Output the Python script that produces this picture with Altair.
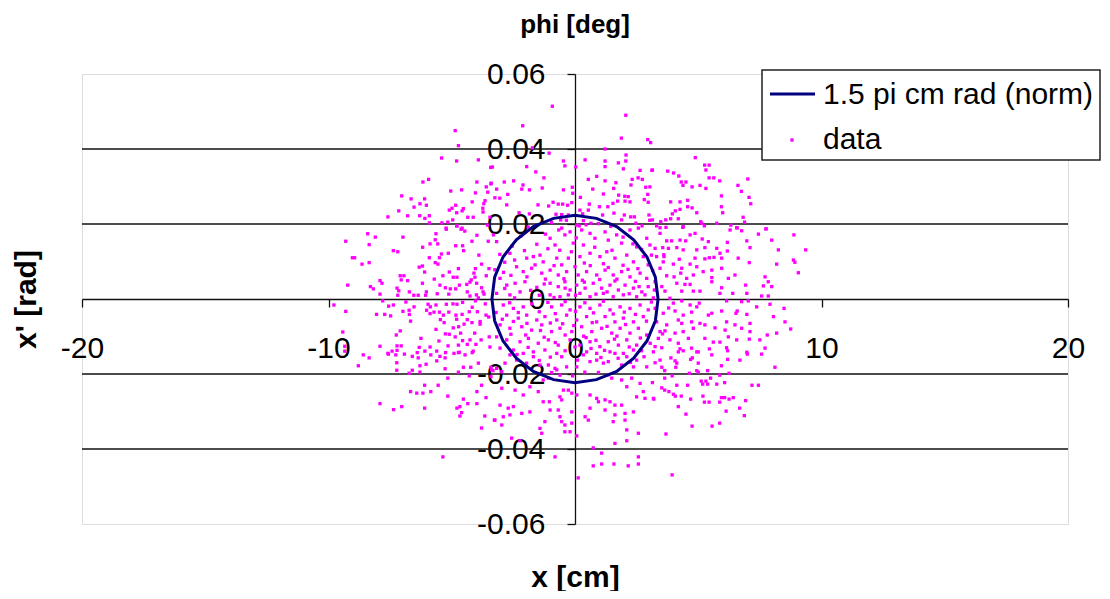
import altair as alt
import pandas as pd

# ---- series values: x [cm], x' [mrad] ----
data_points = [
    # upper-left
    (-4.86, 44.9), (-4.73, 40.9), (-5.41, 37.6), (-4.80, 36.8), (-3.92, 37.1), (-3.35, 35.2),
    (-5.94, 31.9), (-6.17, 31.2), (-3.98, 31.2), (-3.41, 30.7), (-3.60, 29.9), (-5.04, 28.8),
    (-4.60, 29.1), (-4.04, 28.3), (-3.54, 28.5), (-7.03, 27.5), (-6.65, 26.7), (-6.10, 26.7),
    (-6.29, 25.4), (-6.03, 25.0), (-6.53, 24.5), (-4.17, 25.9), (-3.65, 26.2), (-3.70, 25.4),
    (-4.84, 25.0), (-4.53, 24.1), (-4.99, 24.2), (-5.10, 23.7), (-4.80, 23.0), (-4.58, 23.5),
    (-3.74, 24.2), (-3.73, 23.2), (-7.15, 23.5), (-6.79, 22.2), (-7.59, 21.9), (-6.30, 22.2),
    (-6.09, 21.5), (-5.91, 22.2), (-5.91, 20.3), (-5.40, 20.3), (-5.16, 20.5), (-4.96, 21.1),
    (-4.35, 21.8), (-4.13, 21.8), (-3.45, 21.8), (-5.23, 18.9), (-4.79, 19.5), (-4.58, 18.9),
    # upper-centre
    (-0.92, 51.4), (2.06, 49.0), (-2.12, 46.2), (1.88, 42.9), (2.95, 42.5), (-1.73, 40.3),
    (1.22, 40.0), (-1.05, 38.9), (2.07, 38.4), (0.41, 37.1), (-0.47, 36.8), (1.22, 36.8),
    (1.76, 36.3), (2.06, 36.8), (-3.42, 35.1), (-0.41, 35.5), (0.03, 35.2), (1.22, 35.3),
    (1.96, 34.7), (3.12, 34.3), (-1.96, 35.3), (-1.59, 33.9), (2.64, 34.3), (-1.26, 32.3),
    (0.88, 32.7), (0.54, 31.9), (-2.49, 31.5), (-2.87, 31.2), (-2.11, 30.4), (-3.40, 30.9),
    (-1.85, 29.1), (-2.16, 29.3), (-3.18, 29.3), (-1.33, 29.6), (-0.47, 29.1), (-0.11, 29.8),
    (1.22, 31.5), (1.66, 31.0), (1.57, 29.5), (2.32, 31.9), (2.56, 32.3), (2.73, 31.9),
    (2.27, 30.4), (2.87, 29.8), (0.72, 29.3), (-0.09, 28.2), (-2.73, 27.9), (-3.25, 27.0),
    (0.22, 27.1), (1.15, 28.0), (1.77, 27.7), (2.02, 27.4), (2.16, 27.3), (2.95, 27.9),
    (-1.50, 25.1), (-1.07, 24.8), (-0.89, 25.8), (-0.68, 25.3), (-0.50, 25.3), (-0.30, 25.0),
    (-0.13, 25.7), (0.20, 23.7), (0.54, 23.7), (0.58, 25.3), (0.99, 24.6), (1.33, 24.6),
    (1.54, 25.5), (1.73, 26.1), (2.03, 26.1), (2.23, 25.9), (2.81, 26.5), (2.97, 25.8),
    (-2.77, 25.1), (-3.05, 26.9), (-2.27, 23.0), (-1.85, 22.7), (-0.77, 22.6), (-0.54, 22.5),
    (-0.27, 22.4), (0.31, 22.7), (1.12, 22.4), (1.58, 22.9), (2.00, 22.4), (1.89, 21.1),
    (2.26, 21.9), (2.41, 21.9), (3.00, 22.4), (3.03, 21.0), (-0.58, 21.1), (0.34, 20.9),
    (0.65, 20.2), (0.07, 19.7), (0.17, 19.5), (2.47, 20.2), (2.72, 19.5),
    # upper-right
    (3.07, 41.7), (4.88, 37.7), (5.26, 35.7), (5.44, 35.7), (5.31, 34.4), (3.14, 34.4),
    (3.76, 34.1), (4.00, 33.6), (4.21, 32.8), (4.31, 31.2), (4.50, 31.2), (4.38, 30.3),
    (5.44, 32.3), (5.63, 32.3), (5.87, 31.5), (4.75, 29.9), (5.07, 30.3), (5.31, 29.5),
    (3.04, 29.9), (7.01, 32.0), (6.61, 30.3), (6.75, 28.7), (7.06, 27.1), (7.13, 25.4),
    (5.94, 27.5), (5.94, 24.6), (5.99, 23.0), (3.88, 25.9), (4.26, 25.9), (4.57, 26.3),
    (4.07, 23.5), (4.26, 23.9), (4.57, 24.6), (4.75, 24.3), (3.95, 22.7), (4.94, 23.0),
    (3.88, 21.4), (4.19, 21.4), (3.68, 21.1), (3.14, 21.1), (3.48, 20.6), (5.10, 20.6),
    (5.14, 20.2), (5.75, 20.2), (6.82, 21.8), (6.88, 20.5), (3.31, 19.5), (3.69, 19.1),
    (4.37, 19.1), (5.25, 19.5), (6.32, 19.7), (6.56, 19.0), (7.75, 18.7),
    # middle-left
    (-8.41, 17.4), (-8.10, 16.5), (-9.30, 15.4), (-6.98, 16.5), (-8.35, 14.5), (-5.22, 18.6),
    (-5.64, 17.4), (-4.80, 19.5), (-4.62, 18.6), (-4.47, 18.1), (-3.98, 17.0), (-4.18, 15.4),
    (-5.67, 15.8), (-5.57, 14.7), (-5.88, 14.7), (-6.18, 13.8), (-4.84, 14.2), (-4.56, 14.2),
    (-4.52, 12.9), (-3.52, 15.4), (-7.37, 12.9), (-7.19, 12.6), (-5.14, 12.2), (-5.42, 12.0),
    (-9.03, 11.0), (-8.94, 11.0), (-5.91, 11.0), (-5.50, 11.0), (-8.64, 9.3), (-8.35, 9.7),
    (-5.67, 9.7), (-5.56, 9.3), (-3.79, 9.3), (-6.32, 8.5), (-6.19, 8.8), (-4.73, 8.1),
    (-4.04, 8.1), (-3.49, 8.1), (-6.10, 7.2), (-5.10, 7.2), (-5.36, 6.2), (-4.94, 5.8),
    (-4.79, 5.8), (-4.10, 6.9), (-4.06, 5.8), (-7.09, 6.2), (-6.94, 6.2), (-6.79, 4.9),
    (-7.91, 4.9), (-7.83, 4.2), (-7.05, 5.1), (-6.19, 4.2), (-5.71, 5.3), (-5.48, 3.7),
    (-5.26, 3.0), (-5.06, 2.7), (-4.84, 2.7), (-4.69, 3.7), (-4.39, 3.9), (-4.26, 4.5),
    (-4.21, 5.1), (-3.99, 4.2), (-3.79, 3.0), (-9.22, 3.7), (-8.30, 3.3), (-8.18, 2.7),
    (-7.22, 2.9), (-7.15, 2.2), (-6.72, 1.9), (-6.36, 1.0), (-6.54, 1.0), (-6.03, 1.9),
    (-6.06, 1.0), (-7.91, 1.3), (-7.19, 1.0), (-5.59, 1.4), (-5.12, 1.3), (-4.26, 0.8),
    (-4.00, 1.1), (-3.92, 0.3), (-3.69, 1.3), (-3.73, 1.9), (-4.37, 1.9), (-9.78, -1.6),
    (-7.80, -0.5), (-6.86, -0.8), (-7.56, -1.9), (-7.37, -1.6), (-6.53, -2.1), (-5.96, -1.4),
    (-5.87, -2.1), (-5.64, -1.6), (-5.22, -1.4), (-4.95, -1.3), (-4.79, -1.4), (-4.56, -0.9),
    (-4.04, -0.5), (-3.64, -1.3), (-9.30, -3.3), (-8.05, -4.1), (-7.72, -4.1), (-7.48, -4.5),
    (-6.98, -3.3), (-6.73, -3.0), (-6.72, -4.1), (-6.02, -3.0), (-5.88, -3.9), (-5.72, -3.5),
    (-5.50, -3.5), (-5.34, -4.3), (-5.12, -3.5), (-4.83, -4.3), (-4.58, -4.1), (-4.29, -3.4),
    (-4.17, -2.2), (-3.96, -3.4), (-3.61, -4.3), (-6.67, -5.9), (-5.46, -5.5), (-5.31, -6.3),
    (-4.80, -5.4), (-4.72, -7.4), (-4.50, -6.7), (-4.37, -5.5), (-4.18, -6.3), (-3.85, -6.7),
    (-3.50, -4.8), (-4.94, -7.7), (-5.64, -8.1), (-9.42, -8.8), (-7.09, -8.5), (-7.25, -9.6),
    (-5.26, -9.3), (-5.10, -9.4), (-4.64, -9.1), (-4.07, -9.1), (-4.86, -10.1), (-4.26, -10.9),
    (-4.56, -11.1), (-3.81, -10.9), (-3.48, -10.1), (-6.25, -10.5), (-5.52, -11.2), (-7.91, -12.6),
    (-7.22, -12.5), (-7.05, -12.5), (-6.32, -12.9), (-5.88, -12.8), (-5.61, -13.9), (-5.15, -12.5),
    (-4.73, -12.3), (-4.37, -12.1), (-4.02, -12.1), (-7.42, -13.9), (-7.22, -13.7), (-7.59, -14.5),
    (-6.40, -14.3), (-4.69, -14.2), (-4.13, -13.9), (-9.34, -12.6), (-9.34, -13.9),
    # centre
    (-0.66, 18.4), (-0.54, 18.9), (-0.41, 17.1), (-0.20, 17.9), (0.27, 18.4), (0.61, 17.5),
    (0.81, 16.2), (1.22, 17.9), (1.35, 15.7), (1.69, 17.1), (1.89, 14.9), (-1.01, 16.2),
    (-0.81, 14.4), (-0.07, 14.9), (0.34, 14.4), (2.23, 18.4), (2.57, 18.9), (2.91, 16.2),
    (3.04, 14.4), (2.50, 13.9), (-3.18, 15.3), (-3.31, 17.1), (-2.64, 12.2), (-1.96, 10.9),
    (-1.69, 11.3), (-1.42, 11.7), (-1.29, 9.9), (-0.74, 10.9), (-0.54, 9.1), (-0.27, 10.9),
    (0.20, 11.3), (0.61, 12.2), (1.01, 11.3), (1.29, 12.6), (1.62, 10.9), (2.10, 11.7),
    (2.37, 9.9), (2.77, 11.3), (2.97, 9.1), (-2.37, 8.6), (-2.10, 7.3), (-1.76, 8.2),
    (-1.35, 6.9), (-1.01, 7.7), (-0.68, 6.4), (-0.34, 7.3), (0.13, 6.4), (0.47, 7.3),
    (0.88, 6.4), (1.22, 7.7), (1.55, 6.4), (1.89, 7.3), (2.23, 5.9), (2.64, 6.9),
    (2.91, 5.5), (-3.04, 5.5), (-2.77, 3.7), (-2.43, 4.2), (-2.03, 4.6), (-1.01, 4.2),
    (-0.68, 3.3), (-0.41, 4.6), (-0.20, 2.4), (0.07, 3.7), (0.41, 2.9), (0.74, 4.2),
    (1.08, 2.9), (1.42, 3.7), (1.76, 2.4), (2.03, 3.7), (2.37, 2.9), (2.71, 1.9),
    (2.97, 3.3), (-3.18, 1.5), (-2.64, 1.1), (-2.23, 1.9), (-1.01, 1.1), (-0.61, 0.6),
    (-0.27, 1.1), (0.20, 1.5), (0.61, 0.6), (1.15, 1.5), (1.55, 0.6), (1.96, 1.1),
    (2.50, 0.6), (2.84, 1.1), (-2.91, -1.6), (-2.50, -2.5), (-2.10, -2.1), (-0.95, -2.1),
    (-0.54, -1.6), (-0.20, -2.9), (0.20, -2.1), (0.61, -2.5), (1.01, -1.6), (1.42, -2.9),
    (1.83, -2.1), (2.23, -2.5), (2.64, -1.6), (2.97, -2.9), (-2.77, -4.3), (-2.30, -5.1),
    (-1.96, -4.3), (-1.55, -5.6), (-1.22, -4.7), (-0.74, -5.6), (-0.34, -4.3), (0.07, -5.6),
    (0.47, -4.7), (0.88, -6.1), (1.22, -4.7), (1.62, -6.1), (1.96, -5.1), (2.37, -6.1),
    (2.77, -4.7), (-3.04, -6.9), (-2.64, -7.8), (-2.16, -7.4), (-1.76, -8.3), (-1.35, -6.9),
    (-0.95, -8.7), (-0.61, -7.8), (-0.13, -8.7), (0.27, -7.4), (0.68, -8.7), (1.08, -7.8),
    (1.49, -9.1), (1.83, -7.8), (2.23, -9.1), (2.57, -7.8), (2.91, -9.6), (-3.18, -10.1),
    (-2.77, -10.9), (-2.23, -11.4), (-1.89, -10.5), (-1.49, -11.8), (-1.08, -10.9), (-0.68, -12.3),
    (-0.20, -10.9), (0.20, -12.3), (0.61, -11.4), (1.01, -12.7), (1.35, -11.4), (1.76, -12.3),
    (2.10, -10.9), (2.50, -12.3), (-3.04, -13.1), (-2.50, -13.6), (-1.69, -14.1), (-1.22, -13.6),
    (-0.74, -14.5), (0.47, -14.1), (0.88, -14.5), (1.42, -14.1), (1.96, -14.5), (2.37, -13.6),
    # centre, second pass (dense core)
    (-2.85, 9.8), (-2.55, 14.1), (-2.20, 16.8), (-1.90, 19.2), (-1.55, 14.6), (-1.20, 17.3),
    (-0.95, 20.4), (-0.35, 21.0), (0.05, 16.3), (0.45, 19.8), (0.95, 20.1), (1.45, 19.4),
    (1.95, 16.5), (2.35, 14.7), (2.70, 13.2), (3.10, 11.7), (-3.05, 11.9), (-2.45, 10.4),
    (-2.05, 12.9), (-1.62, 9.1), (-1.10, 13.4), (-0.62, 13.0), (-0.15, 12.6), (0.38, 9.6),
    (0.80, 13.8), (1.15, 9.4), (1.50, 13.0), (1.95, 9.0), (2.55, 8.1), (3.15, 7.6),
    (-3.25, 7.8), (-2.90, 7.1), (-2.60, 6.3), (-1.95, 5.9), (-1.55, 3.1), (-1.20, 5.3),
    (-0.85, 8.9), (-0.45, 5.4), (0.00, 8.6), (0.30, 5.0), (0.62, 8.9), (1.00, 5.2),
    (1.35, 8.4), (1.70, 5.3), (2.15, 7.9), (2.45, 4.7), (3.22, 2.4), (-2.85, 2.8),
    (-2.45, 0.3), (-1.80, 2.3), (-1.45, 1.0), (-1.25, 4.0), (-0.85, 0.4), (-0.40, 2.9),
    (0.02, 1.0), (0.38, 4.5), (0.85, 1.3), (1.30, 1.9), (1.62, 4.8), (2.20, 1.4),
    (2.60, 3.3), (3.10, -0.8), (-3.20, -3.6), (-2.65, -1.0), (-2.30, -3.6), (-1.75, -1.3),
    (-1.45, -3.4), (-1.10, -0.9), (-0.80, -3.9), (-0.40, -0.7), (0.02, -3.3), (0.40, -1.0),
    (0.75, -3.7), (1.15, -0.6), (1.55, -4.0), (2.00, -3.5), (2.45, -4.1), (2.90, -5.9),
    (-2.95, -5.4), (-2.50, -6.0), (-1.95, -6.5), (-1.40, -8.4), (-1.00, -6.4), (-0.50, -6.6),
    (-0.05, -7.1), (0.35, -9.9), (0.70, -6.3), (1.30, -7.3), (1.70, -9.9), (2.05, -6.8),
    (2.65, -10.4), (3.05, -11.8), (-2.60, -9.4), (-2.00, -9.6), (-1.25, -10.2), (-0.80, -11.6),
    (-0.40, -9.6), (0.00, -12.8), (0.45, -10.3), (0.85, -11.0), (1.20, -13.7), (1.60, -10.7),
    (2.20, -12.8), (2.70, -13.8), (-2.35, -14.8), (-1.90, -12.9), (-1.45, -16.4), (-1.00, -15.5),
    (-0.40, -13.8), (0.10, -16.3), (0.65, -13.2), (1.05, -15.6), (1.75, -15.8), (2.25, -16.9),
    (2.80, -15.4), (-0.10, -20.5), (0.40, -19.5), (0.95, -19.6), (-0.95, -19.6), (1.35, -20.2),
    (-3.90, 11.7), (-3.60, 6.2), (-3.85, -6.0), (-3.45, -12.8), (3.60, 11.8), (3.80, -2.4),
    (3.55, -9.3), (-3.55, 19.7), (3.45, 19.0),
    # middle-right
    (4.39, 19.3), (6.29, 18.4), (6.58, 19.0), (6.76, 18.2), (7.44, 17.3), (7.75, 18.7),
    (8.88, 17.1), (3.45, 17.5), (3.72, 15.5), (3.92, 15.5), (4.26, 15.7), (4.49, 15.5),
    (4.67, 17.1), (4.87, 17.5), (5.16, 16.0), (5.41, 15.3), (6.18, 15.1), (6.97, 15.5),
    (7.98, 15.7), (3.25, 13.5), (3.56, 13.7), (3.79, 13.5), (4.13, 13.7), (4.39, 13.1),
    (4.94, 13.1), (5.27, 13.7), (5.75, 13.5), (6.18, 12.8), (7.10, 13.7), (8.25, 13.1),
    (9.36, 13.1), (3.31, 11.3), (3.61, 11.3), (4.23, 10.6), (4.87, 10.9), (5.27, 10.7),
    (5.45, 11.0), (5.64, 11.1), (5.88, 12.2), (5.95, 10.9), (6.62, 10.9), (7.07, 9.7),
    (8.18, 9.3), (8.86, 10.4), (8.92, 9.8), (9.06, 7.0), (3.45, 8.2), (3.58, 9.9),
    (3.99, 9.3), (4.33, 8.2), (4.67, 9.3), (4.94, 8.6), (5.20, 7.3), (5.55, 7.7),
    (5.95, 8.2), (6.49, 6.4), (3.72, 6.2), (4.02, 5.9), (4.29, 6.9), (4.53, 5.5),
    (4.80, 6.4), (5.55, 5.7), (6.22, 5.5), (7.71, 5.9), (7.84, 4.6), (3.25, 4.6),
    (3.52, 3.3), (4.13, 4.2), (4.46, 3.9), (4.67, 3.9), (5.55, 4.6), (5.95, 3.0),
    (6.92, 3.7), (7.64, 3.5), (7.98, 3.3), (3.65, 2.1), (4.33, 2.1), (4.80, 2.1),
    (5.07, 2.1), (5.88, 1.5), (6.40, 1.5), (6.97, 1.5), (7.57, 0.8), (7.84, 0.8),
    (3.18, 0.3), (3.85, 0.2), (3.99, -1.1), (4.33, -0.5), (4.67, -1.6), (4.94, -2.1),
    (5.04, -1.1), (6.15, -0.5), (6.76, -0.7), (7.03, -0.5), (7.37, -2.1), (7.91, -1.4),
    (8.48, -2.5), (3.25, -2.5), (3.58, -3.8), (4.06, -3.2), (4.39, -4.3), (4.73, -3.5),
    (5.55, -3.8), (5.95, -3.2), (6.53, -3.8), (6.58, -3.2), (6.97, -4.1), (8.05, -4.7),
    (3.31, -6.1), (3.72, -6.9), (4.19, -5.6), (4.33, -6.5), (4.73, -6.1), (5.07, -6.5),
    (5.41, -4.3), (5.27, -6.9), (6.15, -6.1), (6.49, -6.9), (7.10, -6.5), (8.52, -6.1),
    (3.45, -8.7), (3.65, -8.5), (4.06, -9.1), (4.39, -8.7), (4.80, -7.8), (5.68, -7.7),
    (6.09, -8.3), (6.76, -7.8), (7.10, -8.7), (7.80, -9.6), (8.18, -9.1), (8.75, -8.0),
    (3.38, -10.5), (3.85, -10.9), (4.19, -11.8), (4.60, -10.5), (5.27, -10.5), (5.61, -11.5),
    (5.88, -11.5), (6.22, -10.1), (6.56, -10.9), (7.07, -10.7), (7.50, -10.9), (3.25, -12.7),
    (3.52, -13.0), (4.26, -13.3), (4.73, -13.1), (5.00, -14.1), (5.45, -13.3), (6.15, -13.0),
    (6.97, -14.2), (7.71, -13.1),
    # lower-left
    (-8.59, -14.9), (-8.35, -15.7), (-8.79, -17.8), (-7.57, -14.7), (-7.27, -14.9), (-6.92, -14.7),
    (-6.60, -15.3), (-6.36, -15.7), (-6.09, -13.9), (-5.85, -14.9), (-5.61, -16.5), (-5.48, -15.3),
    (-5.27, -15.7), (-5.25, -14.3), (-4.91, -14.5), (-4.73, -14.3), (-4.46, -14.9), (-4.17, -14.3),
    (-3.92, -17.1), (-7.23, -17.0), (-6.29, -17.8), (-6.04, -17.4), (-7.23, -19.0), (-6.60, -19.0),
    (-6.73, -19.8), (-6.29, -19.5), (-5.27, -18.6), (-4.73, -19.5), (-4.53, -18.2), (-4.23, -18.2),
    (-4.29, -20.5), (-5.16, -21.1), (-3.41, -18.2), (-3.33, -19.1), (-3.41, -20.7), (-3.79, -23.0),
    (-6.10, -23.0), (-5.55, -23.0), (-6.67, -24.7), (-6.42, -25.1), (-6.17, -25.1), (-5.85, -24.7),
    (-3.98, -24.7), (-5.16, -25.9), (-3.61, -26.3), (-4.53, -26.7), (-7.91, -27.9), (-4.35, -27.9),
    (-3.98, -27.9), (-7.36, -29.5), (-7.03, -28.7), (-6.10, -29.1), (-4.79, -29.1), (-4.67, -28.7),
    (-4.60, -30.3), (-4.67, -31.2), (-3.66, -31.2), (-3.27, -32.3), (-3.79, -34.4), (-5.36, -42.1),
    # lower-centre
    (-3.38, -18.9), (-3.18, -18.5), (-2.97, -19.4), (-2.84, -17.1), (-2.64, -14.9), (-2.37, -16.3),
    (-2.10, -14.5), (-1.96, -17.1), (-1.69, -15.4), (-1.42, -17.6), (-1.08, -17.6), (-0.81, -18.5),
    (-0.54, -15.4), (-0.34, -18.1), (-0.61, -20.3), (-1.08, -21.1), (-1.29, -21.6), (-0.74, -18.9),
    (0.07, -18.1), (0.34, -14.9), (0.61, -16.7), (0.88, -16.3), (1.15, -17.1), (1.35, -16.7),
    (1.62, -14.5), (1.89, -17.6), (2.10, -15.4), (2.37, -18.1), (2.50, -16.3), (2.91, -18.1),
    (1.49, -21.1), (1.89, -21.6), (2.30, -21.1), (2.64, -22.5), (2.10, -23.4), (-2.97, -23.8),
    (-2.43, -24.3), (-2.10, -25.6), (-1.83, -23.4), (-1.49, -24.7), (-0.47, -24.3), (-0.27, -24.3),
    (-0.13, -25.1), (0.07, -25.6), (-0.61, -26.1), (-0.54, -26.9), (-1.29, -27.4), (-1.04, -27.4),
    (0.61, -25.6), (0.88, -26.5), (0.95, -27.4), (1.22, -26.9), (1.42, -27.4), (1.62, -28.3),
    (1.89, -28.3), (2.50, -26.1), (2.84, -26.5), (3.18, -26.5), (2.77, -24.7), (-3.04, -28.3),
    (-2.71, -29.1), (-2.50, -28.7), (-1.83, -30.1), (-1.01, -29.6), (-0.68, -29.6), (-0.13, -30.1),
    (0.61, -29.1), (1.22, -29.6), (1.62, -30.9), (2.03, -30.5), (2.37, -30.1), (-3.25, -32.3),
    (-2.91, -31.4), (-2.64, -30.9), (-2.16, -30.5), (-1.22, -32.7), (-0.61, -31.4), (-0.54, -32.7),
    (-0.41, -33.6), (-0.13, -33.1), (0.41, -31.4), (0.54, -32.3), (1.55, -32.7), (2.03, -32.3),
    (-2.97, -33.6), (-1.42, -34.5), (-1.35, -35.8), (-0.41, -35.4), (-0.20, -35.4), (0.07, -36.5),
    (2.10, -34.9), (2.57, -35.8), (-2.57, -37.1), (-2.23, -37.8), (1.62, -38.5), (2.10, -37.8),
    (0.74, -39.7), (1.08, -41.1), (-0.81, -42.1), (2.57, -42.1), (0.74, -44.5), (1.08, -44.0),
    (1.58, -44.0), (2.16, -44.5), (2.57, -44.0), (0.13, -47.7),
    # lower-right
    (3.18, -14.1), (4.19, -14.1), (4.39, -13.8), (4.94, -14.1), (6.19, -13.8), (5.55, -14.9),
    (6.99, -14.7), (7.57, -14.7), (3.45, -16.3), (3.25, -17.0), (3.89, -15.7), (4.06, -16.5),
    (4.13, -17.1), (4.69, -16.1), (4.76, -15.7), (5.00, -17.1), (6.19, -16.1), (6.69, -16.3),
    (5.94, -17.8), (3.52, -18.2), (3.64, -19.1), (4.09, -18.2), (4.94, -19.1), (5.00, -19.5),
    (5.38, -19.1), (4.64, -19.8), (5.87, -20.3), (6.25, -19.8), (8.11, -18.2), (3.94, -20.5),
    (3.64, -21.1), (5.50, -21.1), (3.14, -22.3), (4.13, -23.0), (4.57, -23.0), (5.12, -21.9),
    (5.31, -21.9), (5.18, -22.7), (5.38, -22.7), (5.75, -22.7), (6.07, -22.3), (7.18, -23.0),
    (7.44, -23.0), (3.52, -23.7), (3.64, -24.3), (3.81, -24.7), (3.99, -25.4), (4.07, -25.9),
    (4.31, -25.9), (3.20, -26.7), (4.69, -26.7), (5.19, -25.9), (5.94, -26.3), (6.07, -26.3),
    (6.25, -26.7), (6.42, -26.3), (5.25, -27.5), (5.44, -27.5), (5.87, -27.5), (6.92, -27.1),
    (4.19, -28.7), (6.68, -29.1), (6.13, -29.9), (4.50, -30.7), (6.87, -31.1), (5.87, -33.1),
    (4.75, -33.9), (5.56, -33.9), (3.69, -36.0), (3.94, -46.9),
]

# 1.5 pi cm rad (norm) ellipse: x [cm], x' [mrad]
ring_x = [3.37, 3.26, 2.92, 2.38, 1.69, 0.87, 0.00, -0.87, -1.69, -2.38, -2.92, -3.26, -3.37,
          -3.26, -2.92, -2.38, -1.69, -0.87, 0.00, 0.87, 1.69, 2.38, 2.92, 3.26, 3.37]
ring_xp = [0.0, 5.8, 11.2, 15.8, 19.3, 21.5, 22.3, 21.5, 19.3, 15.8, 11.2, 5.8, 0.0,
           -5.8, -11.2, -15.8, -19.3, -21.5, -22.3, -21.5, -19.3, -15.8, -11.2, -5.8, 0.0]

x_ticks = [-20, -10, 0, 10, 20]
y_ticks = [-0.06, -0.04, -0.02, 0, 0.02, 0.04, 0.06]
grid_values = [-0.04, -0.02, 0.02, 0.04]
series_names = ["1.5 pi cm rad (norm)", "data"]
chart_title = "phi [deg]"

FONT = "Liberation Sans"
W, H = 986, 450

pts = pd.DataFrame({"x": [p[0] for p in data_points],
                    "xp": [p[1] / 1000.0 for p in data_points]})
ring = pd.DataFrame({"x": ring_x, "xp": [v / 1000.0 for v in ring_xp],
                     "i": list(range(len(ring_x)))})
grid = pd.DataFrame({"xp": grid_values})

xscale = alt.Scale(domain=[-20, 20], nice=False, zero=False)
yscale = alt.Scale(domain=[-0.06, 0.06], nice=False, zero=False)

x_axis = alt.Axis(
    values=x_ticks, offset=-225, grid=False, tickSize=8, tickColor="#111111",
    domainColor="#111111", domainWidth=1.3, tickWidth=1.3,
    labelFont=FONT, labelFontSize=30, labelColor="black", labelPadding=26,
    labelFlush=False, labelOverlap=False, labelExpr="'' + datum.value",
    title="x [cm]", titleFont=FONT, titleFontSize=30, titleFontWeight="bold",
    titleColor="black", titleX=493, titleY=278, titleBaseline="middle", titleAlign="center",
)
y_axis = alt.Axis(
    values=y_ticks, offset=-493, grid=False, tickSize=8, tickColor="#111111",
    domainColor="#111111", domainWidth=1.3, tickWidth=1.3,
    labelFont=FONT, labelFontSize=30, labelColor="black", labelPadding=22,
    labelFlush=False, labelOverlap=False, labelExpr="'' + datum.value",
    title="x' [rad]", titleFont=FONT, titleFontSize=30, titleFontWeight="bold",
    titleColor="black", titleX=-549, titleY=225, titleAngle=270,
    titleBaseline="middle", titleAlign="center",
)

X = alt.X("x:Q", scale=xscale, axis=x_axis)
Y = alt.Y("xp:Q", scale=yscale, axis=y_axis)

gridlines = alt.Chart(grid).mark_rule(color="#111111", strokeWidth=1.4).encode(
    y=Y, x=alt.value(0), x2=alt.value(W),
)

points = alt.Chart(pts).mark_square(size=11, color="#FF00FF", opacity=1, strokeWidth=0).encode(
    x=X, y=Y,
)

ellipse = alt.Chart(ring).mark_line(color="#000080", strokeWidth=3).encode(
    x=X, y=Y, order="i:O",
)

one = pd.DataFrame({"a": [0]})
title_mark = alt.Chart(one).mark_text(align="center", baseline="middle", font=FONT,
                                      fontSize=26, fontWeight="bold", color="black").encode(
    x=alt.value(W / 2), y=alt.value(-49), text=alt.value(chart_title))
leg_box = alt.Chart(one).mark_rect(fill="white", stroke="#222222", strokeWidth=1.5).encode(
    x=alt.value(680), x2=alt.value(1018), y=alt.value(-4), y2=alt.value(86))
leg_line = alt.Chart(one).mark_rule(color="#000080", strokeWidth=3).encode(
    x=alt.value(688), x2=alt.value(733), y=alt.value(20))
leg_dot = alt.Chart(one).mark_square(size=11, color="#FF00FF", opacity=1).encode(
    x=alt.value(710), y=alt.value(66))
leg_t1 = alt.Chart(one).mark_text(align="left", baseline="middle", font=FONT, fontSize=30,
                                  color="black").encode(
    x=alt.value(741), y=alt.value(21), text=alt.value(series_names[0]))
leg_t2 = alt.Chart(one).mark_text(align="left", baseline="middle", font=FONT, fontSize=30,
                                  color="black").encode(
    x=alt.value(741), y=alt.value(66), text=alt.value(series_names[1]))

chart = alt.layer(
    gridlines, points, ellipse, title_mark, leg_box, leg_line, leg_dot, leg_t1, leg_t2
).properties(
    width=W, height=H,
    autosize=alt.AutoSizeParams(type="none"),
    padding={"left": 74, "top": 66, "right": 34, "bottom": 67},
).configure_view(
    stroke="#999999", strokeWidth=1.5,
).configure(background="white")

chart.save("out.html", embed_options={"renderer": "svg", "actions": False})
